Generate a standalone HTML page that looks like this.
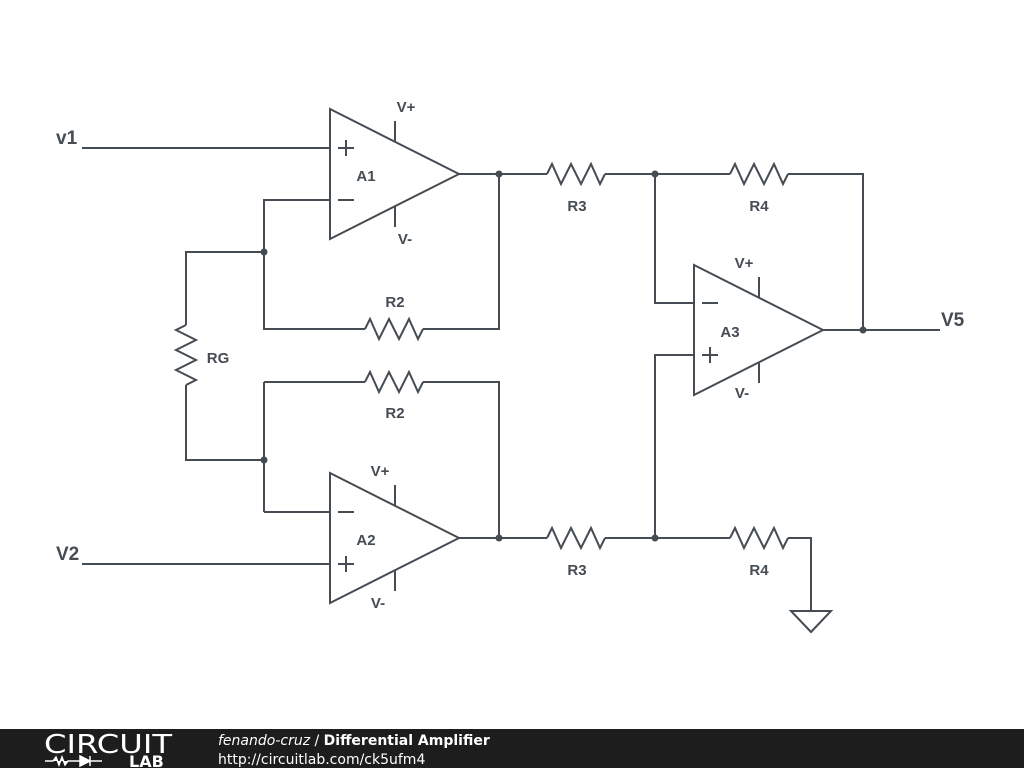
<!DOCTYPE html>
<html><head><style>
html,body{margin:0;padding:0;background:#fff;width:1024px;height:768px;overflow:hidden}
svg{display:block}
text{font-family:"Liberation Sans","DejaVu Sans",sans-serif;fill:#454c53;font-weight:bold}
</style></head><body>
<svg width="1024" height="768" viewBox="0 0 1024 768">
<g stroke="#454c53" stroke-width="2" fill="none" stroke-linejoin="miter">
<polygon points="330,109 330,239 459,174"/>
<polygon points="330,473 330,603 459,538"/>
<polygon points="694,265 694,395 823,330"/>
<line x1="395" y1="121" x2="395" y2="141"/><line x1="395" y1="206" x2="395" y2="227"/>
<line x1="395" y1="485" x2="395" y2="505"/><line x1="395" y1="570" x2="395" y2="591"/>
<line x1="759" y1="277" x2="759" y2="297"/><line x1="759" y1="362" x2="759" y2="383"/>
<path d="M338,148h16M346,140v16M338,200h16"/>
<path d="M338,512h16M338,564h16M346,556v16"/>
<path d="M702,303h16M702,355h16M710,347v16"/>
<path d="M82,148H330"/>
<path d="M82,564H330"/>
<path d="M459,174H547M605,174H730M788,174H863V330"/>
<path d="M655,174V303H694"/>
<path d="M823,330H940"/>
<path d="M499,174V329H423M365,329H264V200H330"/>
<path d="M264,252H186V325M186,385V460H264"/>
<path d="M264,512H330M264,382V512M264,382H365M423,382H499V538"/>
<path d="M459,538H547M605,538H730M788,538H811V611"/>
<path d="M655,538V355H694"/>
<polygon points="791,611 831,611 811,632"/>
<polyline points="547,174 552,164 561,184 571,164 581,184 591,164 600,184 605,174"/>
<polyline points="730,174 735,164 744,184 754,164 764,184 774,164 783,184 788,174"/>
<polyline points="547,538 552,528 561,548 571,528 581,548 591,528 600,548 605,538"/>
<polyline points="730,538 735,528 744,548 754,528 764,548 774,528 783,548 788,538"/>
<polyline points="365,329 370,319 379,339 389,319 399,339 409,319 418,339 423,329"/>
<polyline points="365,382 370,372 379,392 389,372 399,392 409,372 418,392 423,382"/>
<polyline points="186,325 176,330 196,340 176,350 196,360 176,370 196,380 186,385"/>
</g>
<g fill="#454c53">
<circle cx="499" cy="174" r="3.5"/><circle cx="655" cy="174" r="3.5"/>
<circle cx="863" cy="330" r="3.5"/><circle cx="264" cy="252" r="3.5"/>
<circle cx="264" cy="460" r="3.5"/><circle cx="499" cy="538" r="3.5"/>
<circle cx="655" cy="538" r="3.5"/>
</g>
<g font-size="15" text-anchor="middle">
<text x="406" y="112">V+</text><text x="405" y="244">V-</text>
<text x="380" y="476">V+</text><text x="378" y="608">V-</text>
<text x="744" y="268">V+</text><text x="742" y="398">V-</text>
<text x="366" y="181">A1</text><text x="366" y="545">A2</text><text x="730" y="337">A3</text>
<text x="577" y="211">R3</text><text x="759" y="211">R4</text>
<text x="577" y="575">R3</text><text x="759" y="575">R4</text>
<text x="395" y="307">R2</text><text x="395" y="418">R2</text>
<text x="218" y="363">RG</text>
</g>
<g font-size="19">
<text x="56" y="144">v1</text><text x="56" y="560">V2</text><text x="941" y="326">V5</text>
</g>
<rect x="0" y="729" width="1024" height="39" fill="#1d1d1d"/>
<text x="44" y="753" font-size="26" textLength="128" lengthAdjust="spacingAndGlyphs" style="fill:#fff;font-weight:normal;font-family:'DejaVu Sans',sans-serif">CIRCUIT</text>
<path d="M45,761h8l3,-4 3,8 3,-8 3,8 3,-4h12M80,756v10l10,-5z M90,756v10M90,761h12" stroke="#fff" stroke-width="1.5" fill="#fff"/>
<text x="129" y="767" font-size="16" style="fill:#fff;font-family:'DejaVu Sans',sans-serif">LAB</text>
<text x="218" y="745" font-size="14" style="fill:#fff;font-weight:normal;font-family:'DejaVu Sans',sans-serif"><tspan font-style="italic">fenando-cruz</tspan> / <tspan font-weight="bold">Differential Amplifier</tspan></text>
<text x="218" y="764" font-size="14" style="fill:#fff;font-weight:normal;font-family:'DejaVu Sans',sans-serif">http://circuitlab.com/ck5ufm4</text>
</svg>
</body></html>
